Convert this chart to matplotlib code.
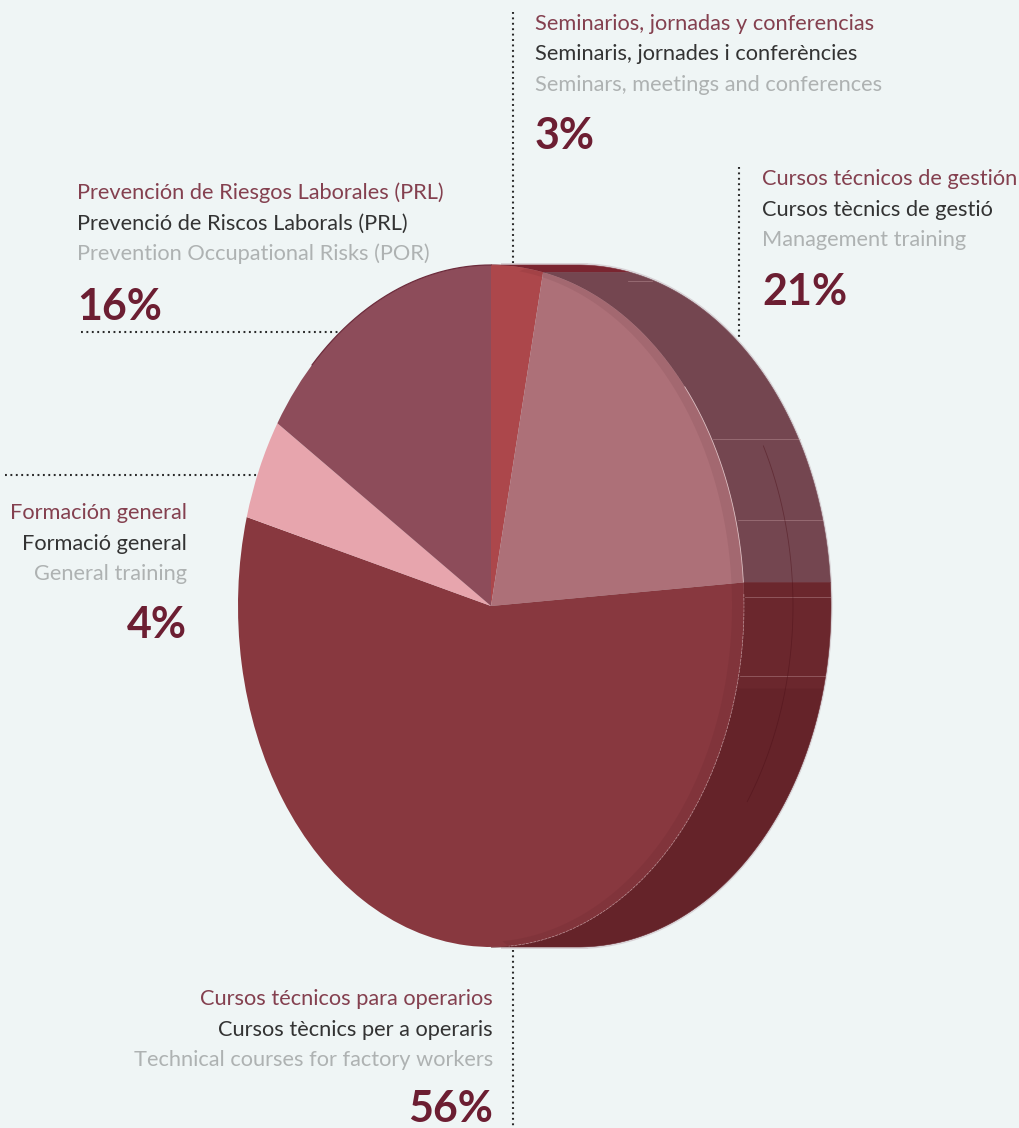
import numpy as np
import matplotlib
matplotlib.use("Agg")
import matplotlib.pyplot as plt
from matplotlib.patches import Ellipse, Polygon, Rectangle

W, H = 1019, 1128
BG = "#eff5f5"

# Printed values (labels)
pct_labels = ["3%", "21%", "56%", "4%", "16%"]
names_es = ["Seminarios, jornadas y conferencias", "Cursos técnicos de gestión",
            "Cursos técnicos para operarios", "Formación general",
            "Prevención de Riesgos Laborales (PRL)"]
names_ca = ["Seminaris, jornades i conferències", "Cursos tècnics de gestió",
            "Cursos tècnics per a operaris", "Formació general",
            "Prevenció de Riscos Laborals (PRL)"]
names_en = ["Seminars, meetings and conferences", "Management training",
            "Technical courses for factory workers", "General training",
            "Prevention Occupational Risks (POR)"]
# Slice sizes as actually drawn in the picture, clockwise from 12 o'clock
drawn_shares = [3.3, 20.6, 55.3, 4.8, 16.0]
face_colors = ["#ac474b", "#ad7078", "#88383f", "#e7a5ad", "#8d4c5a"]
side_colors = ["#7a2530", "#744650", "#6b272d"]

# Layout, in pixels
CX, CY, RX, RY = 491, 606, 253, 341
DEPTH = 87
text_x = [535, 762, 493, 187, 77]
text_ha = ["left", "left", "right", "right", "left"]
text_base = [30, 185, 1005, 519, 199]
pct_base = [149, 305, 1122, 638, 320]
LINE = 30.5
dotted = [((513, 12), (513, 265)), ((739, 167), (739, 340)), ((81, 332), (340, 332)),
          ((5, 475), (258, 475)), ((513, 950), (513, 1127))]
side_rules = [(628, 652, 281), (713, 800, 439), (738, 822, 520), (745, 830, 597), (740, 825, 676)]

fam = ["Lato", "DejaVu Sans"]
fig = plt.figure(figsize=(W / 100, H / 100), dpi=100, facecolor=BG)
ax = fig.add_axes([0, 0, 1, 1])
ax.set_xlim(0, W)
ax.set_ylim(H, 0)
ax.axis("off")


def arc(t0, t1, cx=CX, cy=CY, rx=RX, ry=RY, n=200):
    t = np.radians(np.linspace(t0, t1, n))
    return cx + rx * np.sin(t), cy - ry * np.cos(t)


edges = np.concatenate([[0], np.cumsum(drawn_shares)]) / sum(drawn_shares) * 360

# Pale halo behind the body
ax.add_patch(Ellipse((CX + DEPTH, CY), 2 * RX + 3, 2 * RY + 4, color="#d8d3d7", lw=0, zorder=1))
ax.add_patch(Rectangle((CX + 10, CY - RY - 2), DEPTH, 2 * RY + 4, color="#d8d3d7", lw=0, zorder=1))

# Side band
bands = [(edges[0], edges[1], side_colors[0]), (edges[1], edges[2], side_colors[1]),
         (edges[2], 180, side_colors[2])]
for t0, t1, c in bands:
    x, y = arc(t0, t1)
    pts = np.vstack([np.c_[x, y], np.c_[x[::-1] + DEPTH, y[::-1]]])
    ax.add_patch(Polygon(pts, closed=True, fc=c, ec=c, lw=0.4, zorder=2))
# darker lower half of the band
x, y = arc(104, 180)
pts = np.vstack([np.c_[x, y], np.c_[x[::-1] + DEPTH, y[::-1]]])
ax.add_patch(Polygon(pts, closed=True, fc="#4a1018", alpha=0.16, lw=0, zorder=2.1))
# thin rules and dark arc on the band
for x0, x1, yy in side_rules:
    ax.plot([x0, x1], [yy, yy], color="#c9a0a5", lw=0.6, alpha=0.45, zorder=2.2)
x, y = arc(62, 125, cx=CX + 49)
ax.plot(x, y, color="#4c1018", lw=0.6, alpha=0.45, zorder=2.2)

# Front face: a real pie in its own axes, stretched to the ellipse
ax_pie = fig.add_axes([(CX - RX) / W, 1 - (CY + RY) / H, 2 * RX / W, 2 * RY / H])
ax_pie.pie(drawn_shares, colors=face_colors, startangle=90, counterclock=False, radius=1,
           wedgeprops={"lw": 0})
ax_pie.set_aspect("auto")
ax_pie.set_xlim(-1, 1)
ax_pie.set_ylim(-1, 1)
ax_pie.patch.set_alpha(0)

# Overlay axes for the rim and edge lines
ov = fig.add_axes([0, 0, 1, 1])
ov.set_xlim(0, W)
ov.set_ylim(H, 0)
ov.axis("off")
ox, oy = arc(8, 176)
ix, iy = arc(8, 176, cx=CX - 6, cy=CY - 1, rx=RX - 6, ry=RY - 4)
ov.add_patch(Polygon(np.vstack([np.c_[ox, oy], np.c_[ix[::-1], iy[::-1]]]), closed=True,
                     fc="#3a0a14", alpha=0.08, lw=0))
x, y = arc(50, 86)
ov.plot(x, y, color="#f0d8da", lw=0.6, alpha=0.75)
x, y = arc(88, 176)
ov.plot(x, y, color="#f0d8da", lw=0.5, alpha=0.55, dashes=(4, 1.5))
x, y = arc(-45, 0)
ov.plot(x, y, color="#6d2c3c", lw=0.9)

# Dotted leaders
for (x0, y0), (x1, y1) in dotted:
    ov.plot([x0, x1], [y0, y1], color="#2a2a2a", lw=1.5, ls=(0, (0.9, 1.7)), dash_capstyle="butt")

# Labels
SIZE = 15.7
for i in range(5):
    for j, (s, c) in enumerate([(names_es[i], "#84404f"), (names_ca[i], "#333333"),
                                (names_en[i], "#aeb2b2")]):
        ov.text(text_x[i], text_base[i] + j * LINE, s, color=c, ha=text_ha[i], va="baseline",
                fontsize=SIZE, family=fam)
    ov.text(text_x[i], pct_base[i], pct_labels[i], color="#6c1e32", ha=text_ha[i], va="baseline",
            fontsize=31, family=fam, fontweight="bold")

fig.savefig("out.png", dpi=100, facecolor=BG)
